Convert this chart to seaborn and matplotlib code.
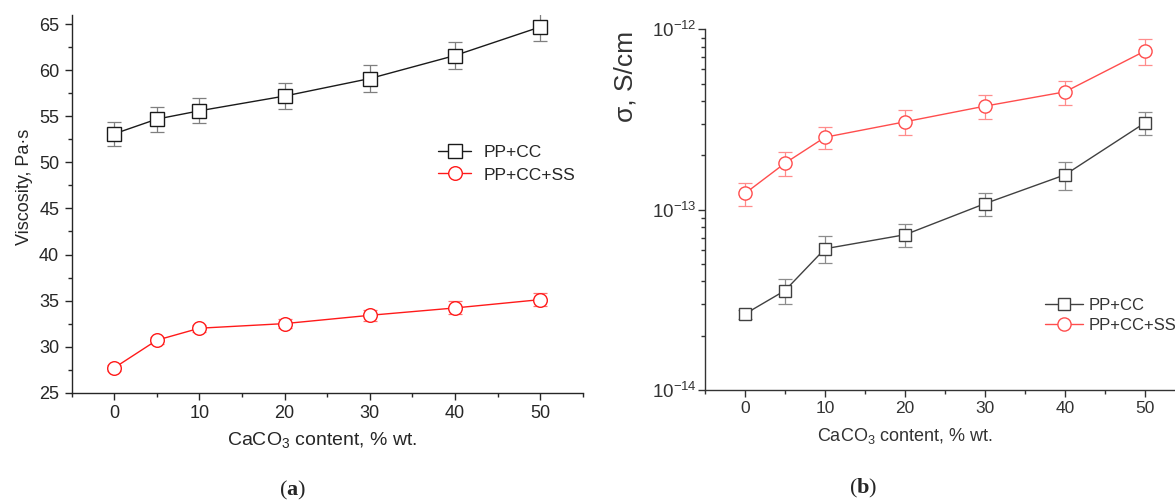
"""Viscosity and conductivity of PP / CaCO3 composites, two panels."""

import matplotlib

matplotlib.use("Agg")
import matplotlib.pyplot as plt
import pandas as pd
import seaborn as sns
from matplotlib.ticker import FixedLocator, MultipleLocator, NullFormatter

# --- data -----------------------------------------------------------------
caco3 = [0, 5, 10, 20, 30, 40, 50]

visc_pp_cc = [53.1, 54.7, 55.6, 57.2, 59.1, 61.6, 64.7]
visc_pp_cc_err = [1.3, 1.35, 1.35, 1.4, 1.45, 1.5, 1.5]
visc_pp_cc_ss = [27.7, 30.7, 32.0, 32.5, 33.4, 34.2, 35.1]
visc_pp_cc_ss_err = [0.3, 0.4, 0.4, 0.5, 0.6, 0.7, 0.7]

sigma_pp_cc = [2.64e-14, 3.56e-14, 6.07e-14, 7.26e-14, 1.08e-13, 1.56e-13, 3.03e-13]
sigma_pp_cc_err = [0.15e-14, 0.56e-14, 1.04e-14, 1.06e-14, 0.16e-13, 0.28e-13, 0.44e-13]
sigma_pp_cc_ss = [1.23e-13, 1.81e-13, 2.52e-13, 3.07e-13, 3.75e-13, 4.5e-13, 7.58e-13]
sigma_pp_cc_ss_err = [0.18e-13, 0.27e-13, 0.36e-13, 0.48e-13, 0.57e-13, 0.68e-13, 1.2e-13]

series_names = ["PP+CC", "PP+CC+SS"]
sigma_decades = [1e-14, 1e-13, 1e-12]

# --- style ----------------------------------------------------------------
sns.set_style("ticks")
plt.rcParams["font.family"] = ["Liberation Sans", "DejaVu Sans"]
plt.rcParams["mathtext.fontset"] = "custom"
plt.rcParams["mathtext.rm"] = "Liberation Sans"
plt.rcParams["mathtext.it"] = "Liberation Sans:italic"
plt.rcParams["mathtext.bf"] = "Liberation Serif:bold"
plt.rcParams["axes.linewidth"] = 1.0

fig = plt.figure(figsize=(11.75, 5), dpi=100)
ax_a = fig.add_axes([0.0610, 0.2146, 0.4349, 0.7554])
ax_b = fig.add_axes([0.6000, 0.2200, 0.4085, 0.7214])


def draw_series(ax, y, err, name, color, err_color, marker, ms):
    df = pd.DataFrame({"x": caco3, "y": y})
    ax.errorbar(caco3, y, yerr=err, fmt="none", ecolor=err_color,
                elinewidth=0.9, capsize=5, capthick=0.9, zorder=1)
    sns.lineplot(data=df, x="x", y="y", ax=ax, color=color, marker=marker,
                 markersize=ms, mfc="white", mec=color, mew=1.0,
                 linewidth=1.0, label=name, zorder=3)


# --- panel (a): viscosity -------------------------------------------------
draw_series(ax_a, visc_pp_cc, visc_pp_cc_err, series_names[0],
            "#1a1a1a", "#7f7f7f", "s", 9.5)
draw_series(ax_a, visc_pp_cc_ss, visc_pp_cc_ss_err, series_names[1],
            "#ff1a1a", "#ff7070", "o", 9.8)

ax_a.set_xlim(-5, 55)
ax_a.set_ylim(25, 66)
ax_a.xaxis.set_major_locator(MultipleLocator(10))
ax_a.xaxis.set_minor_locator(MultipleLocator(5))
ax_a.yaxis.set_major_locator(MultipleLocator(5))
ax_a.yaxis.set_minor_locator(MultipleLocator(2.5))
ax_a.tick_params(which="major", length=5, width=1.0, labelsize=13, pad=4)
ax_a.tick_params(which="minor", length=3, width=1.0)
sns.despine(ax=ax_a)
ax_a.set_xlabel(r"CaCO$_3$ content, % wt.", fontsize=14)
ax_a.set_ylabel("Viscosity, Pa·s", fontsize=13)
ax_a.xaxis.set_label_coords(0.49, -0.1)
ax_a.yaxis.set_label_coords(-0.076, 0.545)
ax_a.legend(loc="upper left", bbox_to_anchor=(0.717, 0.655), frameon=False,
            fontsize=12.5, handlelength=1.9, handletextpad=0.7,
            borderaxespad=0, borderpad=0, labelspacing=0.4)

# --- panel (b): conductivity (log scale) ----------------------------------
ink_b = "#333333"
ax_b.set_yscale("log")
draw_series(ax_b, sigma_pp_cc, sigma_pp_cc_err, series_names[0],
            "#404040", "#8c8c8c", "s", 9)
draw_series(ax_b, sigma_pp_cc_ss, sigma_pp_cc_ss_err, series_names[1],
            "#ff4d4d", "#ff8c8c", "o", 9.5)

ax_b.set_xlim(-5, 55)
ax_b.set_ylim(sigma_decades[0], sigma_decades[-1])
ax_b.xaxis.set_major_locator(MultipleLocator(10))
ax_b.xaxis.set_minor_locator(MultipleLocator(5))
ax_b.yaxis.set_major_locator(FixedLocator(sigma_decades))
minor_sigma = [m * d for d in sigma_decades[:-1] for m in range(2, 10)]
ax_b.yaxis.set_minor_locator(FixedLocator(minor_sigma))
ax_b.yaxis.set_minor_formatter(NullFormatter())
ax_b.tick_params(which="major", length=5, width=1.0, pad=3, colors=ink_b)
ax_b.tick_params(which="minor", length=3, width=1.0, colors=ink_b)
ax_b.tick_params(axis="x", labelsize=12.5)
ax_b.tick_params(axis="y", labelsize=13.5, pad=1)
for side in ("left", "bottom"):
    ax_b.spines[side].set_color(ink_b)
sns.despine(ax=ax_b)
ax_b.set_xlabel(r"CaCO$_3$ content, % wt.", fontsize=13, color=ink_b)
ax_b.set_ylabel("σ, S/cm", fontsize=19, color=ink_b)
ax_b.xaxis.set_label_coords(0.417, -0.1)
ax_b.yaxis.set_label_coords(-0.14, 0.868)
leg_b = ax_b.legend(loc="upper left", bbox_to_anchor=(0.708, 0.255), frameon=False,
                    fontsize=12, handlelength=2.3, handletextpad=0.35,
                    borderaxespad=0, borderpad=0, labelspacing=0.3)
for txt in leg_b.get_texts():
    txt.set_color(ink_b)

# --- panel captions -------------------------------------------------------
fig.text(0.249, 0.02, r"($\mathbf{a}$)", family="Liberation Serif",
         fontsize=16, ha="center", va="center")
fig.text(0.735, 0.024, r"($\mathbf{b}$)", family="Liberation Serif",
         fontsize=16, ha="center", va="center")

fig.savefig("out.png", dpi=100)
